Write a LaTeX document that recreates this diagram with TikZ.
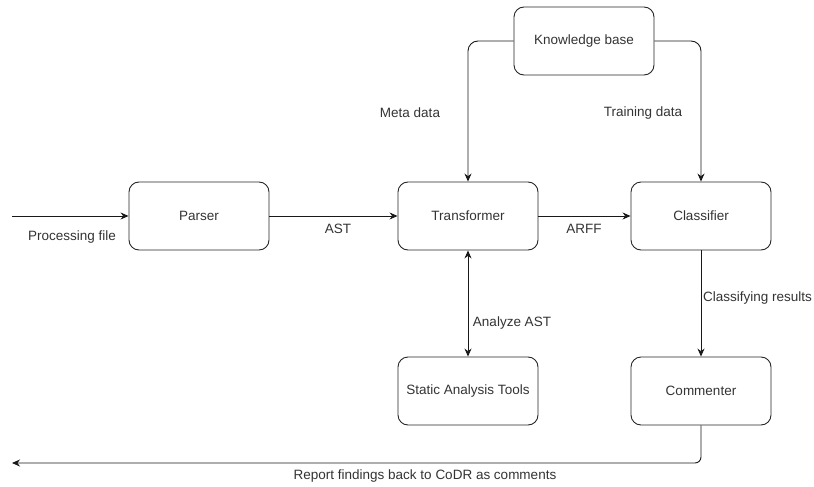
\documentclass[tikz,border=0pt]{standalone}
\usepackage{fontspec}
\setmainfont{Liberation Sans}
\usetikzlibrary{arrows.meta}
\begin{document}
\begin{tikzpicture}[x=1pt,y=-1pt,
  box/.style={draw=black!85, line width=0.9pt, rounded corners=10pt, minimum width=140pt, minimum height=68pt, inner sep=0pt, text=black!80, font=\fontsize{13.5}{15}\selectfont},
  conn/.style={draw=black!90, line width=0.9pt, -{Stealth[length=8pt,width=7pt]}},
  lbl/.style={text=black!80, font=\fontsize{13.5}{15}\selectfont, inner sep=0pt}]
\useasboundingbox (0,0) rectangle (814,487);
\node[box] (parser) at (199,216) {Parser};
\node[box] (trans) at (468,216) {Transformer};
\node[box] (cls) at (701,216) {Classifier};
\node[box] (kb) at (584,41) {Knowledge base};
\node[box] (sat) at (468,391) {Static Analysis Tools};
\node[box] (com) at (701,391) {Commenter};
\coordinate (in) at (12,216);
\coordinate (out) at (12,463);
\draw[conn] (in) -- (parser);
\draw[conn] (parser) -- (trans);
\draw[conn] (trans) -- (cls);
\draw[conn, rounded corners=10pt] (kb.west) -| (trans.north);
\draw[conn, rounded corners=10pt] (kb.east) -| (cls.north);
\draw[conn, {Stealth[length=8pt,width=7pt]}-{Stealth[length=8pt,width=7pt]}] (trans) -- (sat);
\draw[conn] (cls) -- (com);
\draw[conn, rounded corners=6pt] (com.south) |- (out);
\node[lbl] (l1) at (72,237) {Processing file};
\node[lbl] (l2) at (338,229) {AST};
\node[lbl] (l3) at (584,229) {ARFF};
\node[lbl] (l4) at (410,113) {Meta data};
\node[lbl] (l5) at (643,113) {Training data};
\node[lbl, anchor=west] (l6) at (703,298) {Classifying results};
\node[lbl] (l7) at (512,323) {Analyze AST};
\node[lbl] (l8) at (425,476) {Report findings back to CoDR as comments};
\end{tikzpicture}
\end{document}
